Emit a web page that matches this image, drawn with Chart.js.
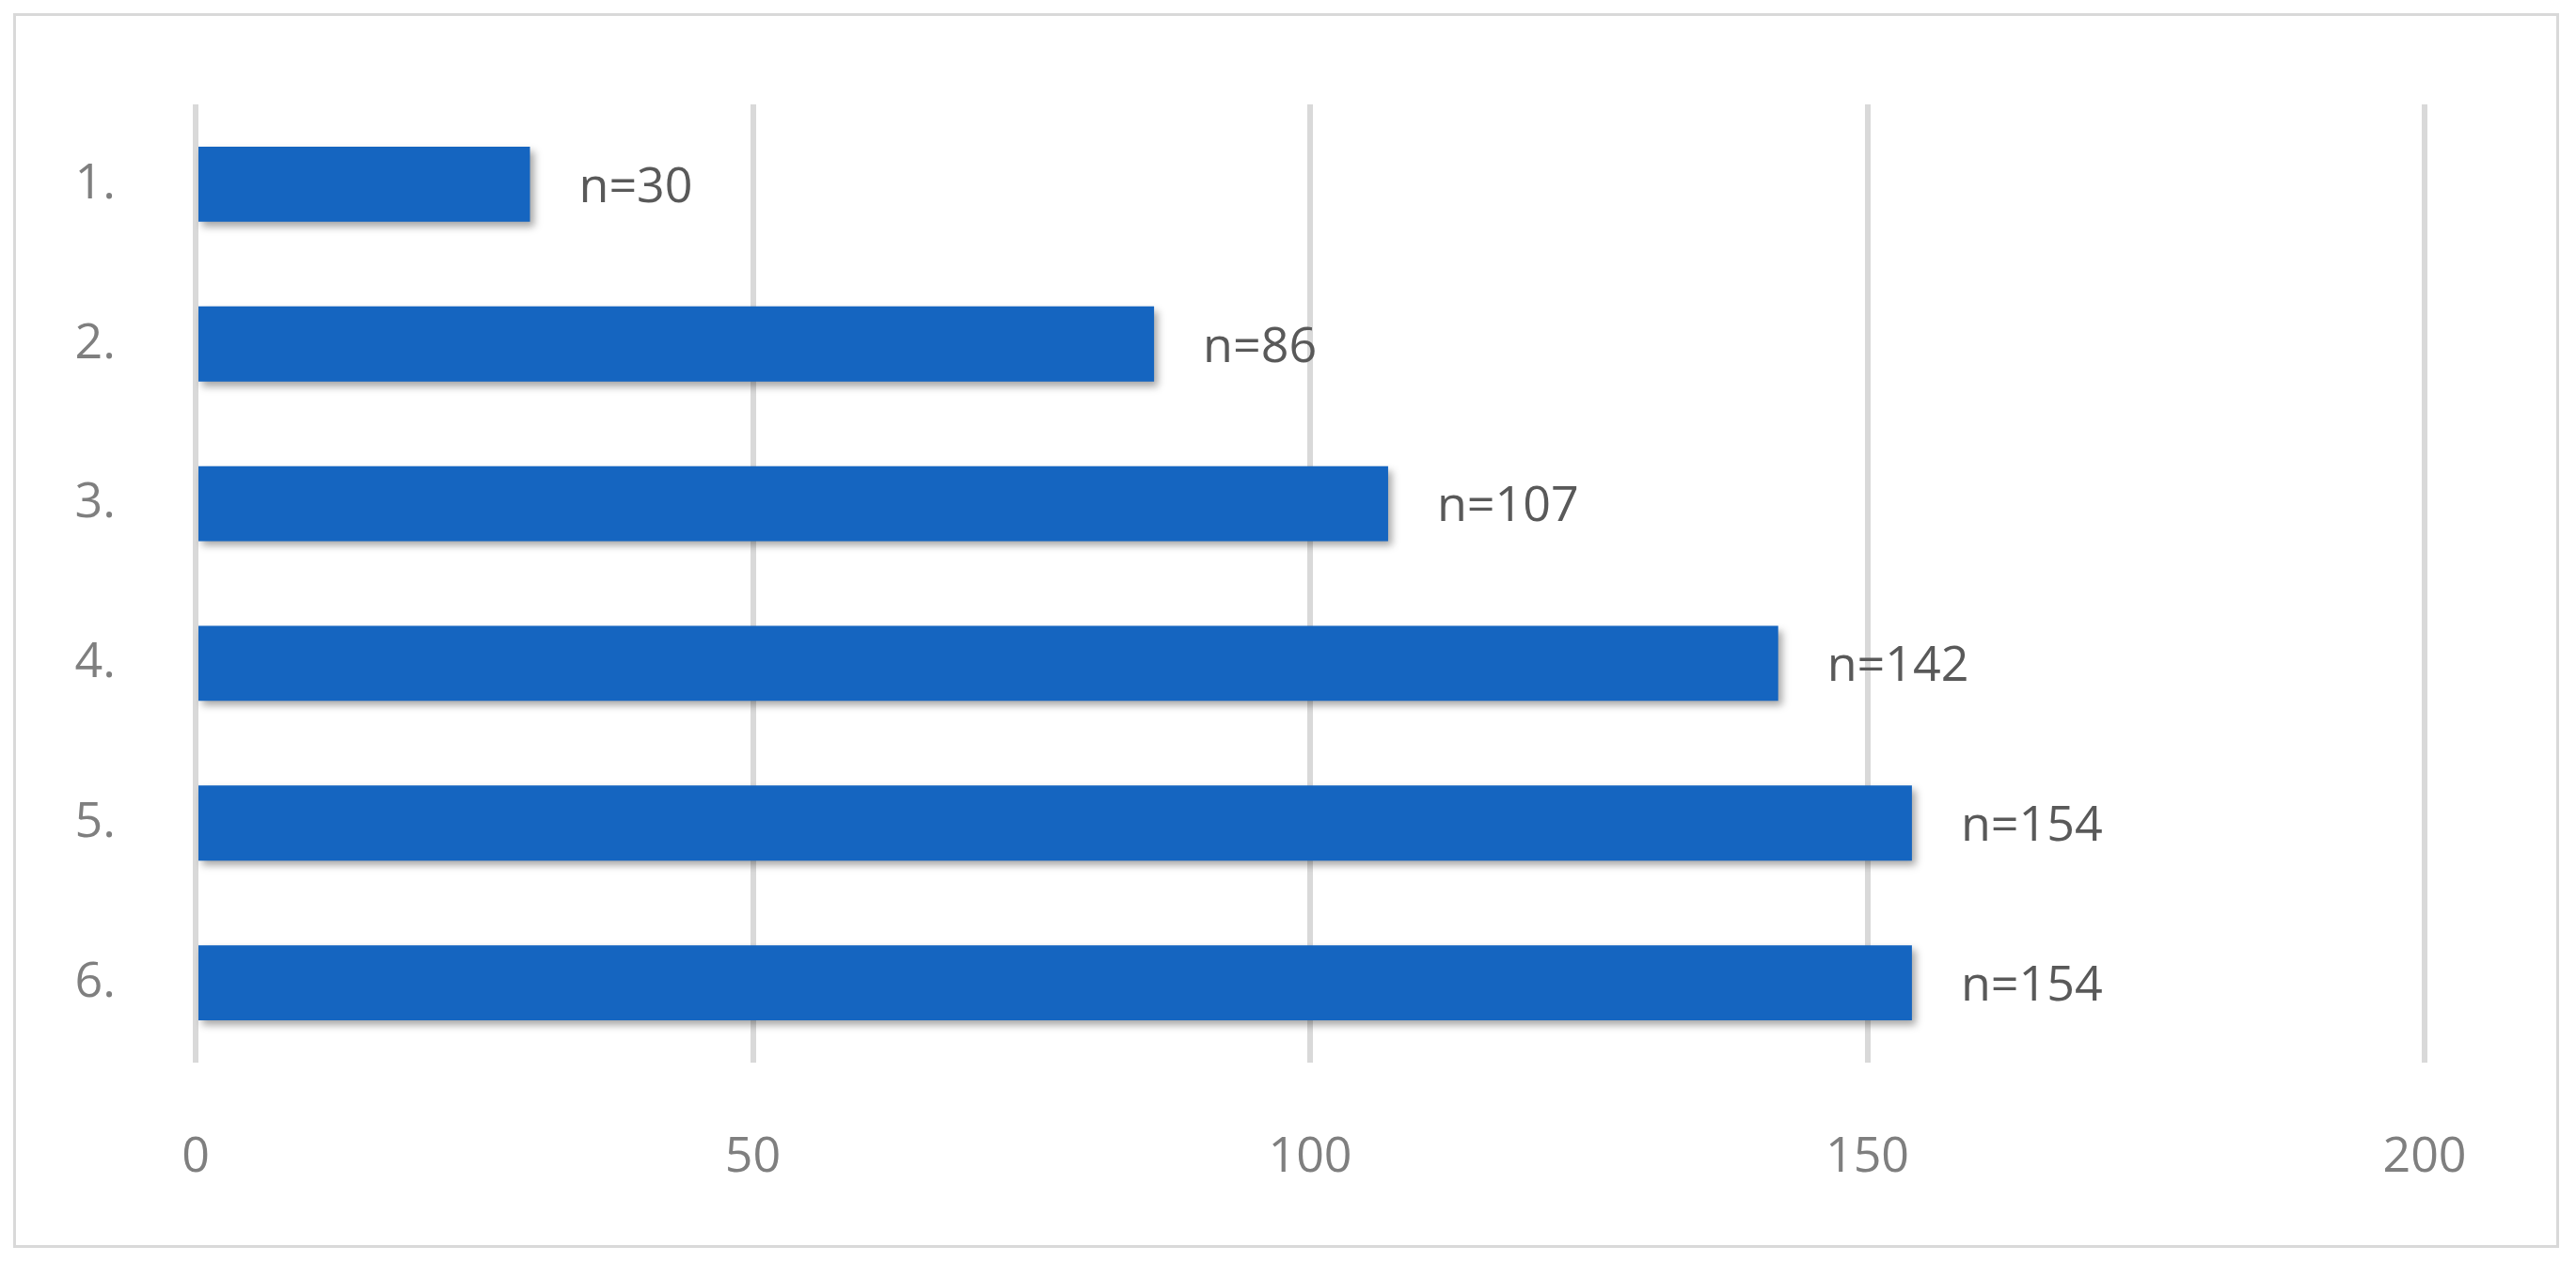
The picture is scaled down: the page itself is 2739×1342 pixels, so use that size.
<!DOCTYPE html>
<html>
<head>
<meta charset="utf-8">
<script src="https://cdn.jsdelivr.net/npm/chart.js@4/dist/chart.umd.min.js"></script>
<style>
  html, body { margin: 0; padding: 0; background: #fff; }
  #wrap { position: relative; width: 2739px; height: 1342px; }
  #frame { position: absolute; left: 14px; top: 14px; width: 2707px; height: 1313px; border: 3px solid #d9d9d9; box-sizing: border-box; }
  canvas { position: absolute; left: 0; top: 0; }
</style>
</head>
<body>
<div id="wrap">
  <div id="frame"></div>
  <canvas id="myChart" width="2739" height="1342"></canvas>
</div>
<script>
// DATA
const categories = ['1.', '2.', '3.', '4.', '5.', '6.'];
const values = [30, 86, 107, 142, 154, 154];
const xTicks = [0, 50, 100, 150, 200];

const FONT = '"Open Sans", "Liberation Sans", sans-serif';

// bar gradient, lighter at top
function barColor(context) {
  const el = context.element;
  const c = context.chart.ctx;
  if (!el || el.y === undefined) return '#1565c0';
  const h = el.height || 80;
  const g = c.createLinearGradient(0, el.y - h / 2, 0, el.y + h / 2);
  g.addColorStop(0, '#5b9be0');
  g.addColorStop(0.45, '#1a6fd0');
  g.addColorStop(1, '#0a5ec2');
  return g;
}

const shadowPlugin = {
  id: 'shadow',
  beforeDatasetDraw(chart) {
    const c = chart.ctx;
    c.save();
    c.shadowColor = 'rgba(0,0,0,0.35)';
    c.shadowBlur = 8;
    c.shadowOffsetX = 4;
    c.shadowOffsetY = 5;
  },
  afterDatasetDraw(chart) {
    chart.ctx.restore();
  }
};

const labelPlugin = {
  id: 'nLabels',
  afterDatasetsDraw(chart) {
    const c = chart.ctx;
    const meta = chart.getDatasetMeta(0);
    c.save();
    c.font = '52px ' + FONT;
    c.fillStyle = '#595959';
    c.textBaseline = 'middle';
    meta.data.forEach((bar, i) => {
      c.fillText('n=' + values[i], bar.x + 52, bar.y + 4);
    });
    c.restore();
  }
};

const config = {
  type: 'bar',
  data: {
    labels: categories,
    datasets: [{
      data: values,
      backgroundColor: barColor,
      borderWidth: 0,
      barPercentage: 0.94,
      categoryPercentage: 0.5
    }]
  },
  options: {
    indexAxis: 'y',
    responsive: false,
    animation: false,
    layout: { padding: { top: 111, right: 161, left: 0, bottom: 0 } },
    plugins: { legend: { display: false }, tooltip: { enabled: false } },
    scales: {
      x: {
        min: 0, max: 200,
        afterBuildTicks(axis) { axis.ticks = xTicks.map(v => ({ value: v })); },
        afterFit(axis) { axis.height = 212; },
        grid: { color: '#d9d9d9', lineWidth: 6, drawTicks: false },
        border: { display: false },
        ticks: { color: '#7f7f7f', font: { size: 52, family: FONT }, padding: 70 }
      },
      y: {
        afterFit(axis) { axis.width = 208; },
        grid: { display: false },
        border: { display: false },
        ticks: { color: '#7f7f7f', font: { size: 52, family: FONT }, padding: 77 }
      }
    }
  },
  plugins: [shadowPlugin, labelPlugin]
};

const myChart = new Chart(document.getElementById('myChart'), config);
</script>
</body>
</html>
